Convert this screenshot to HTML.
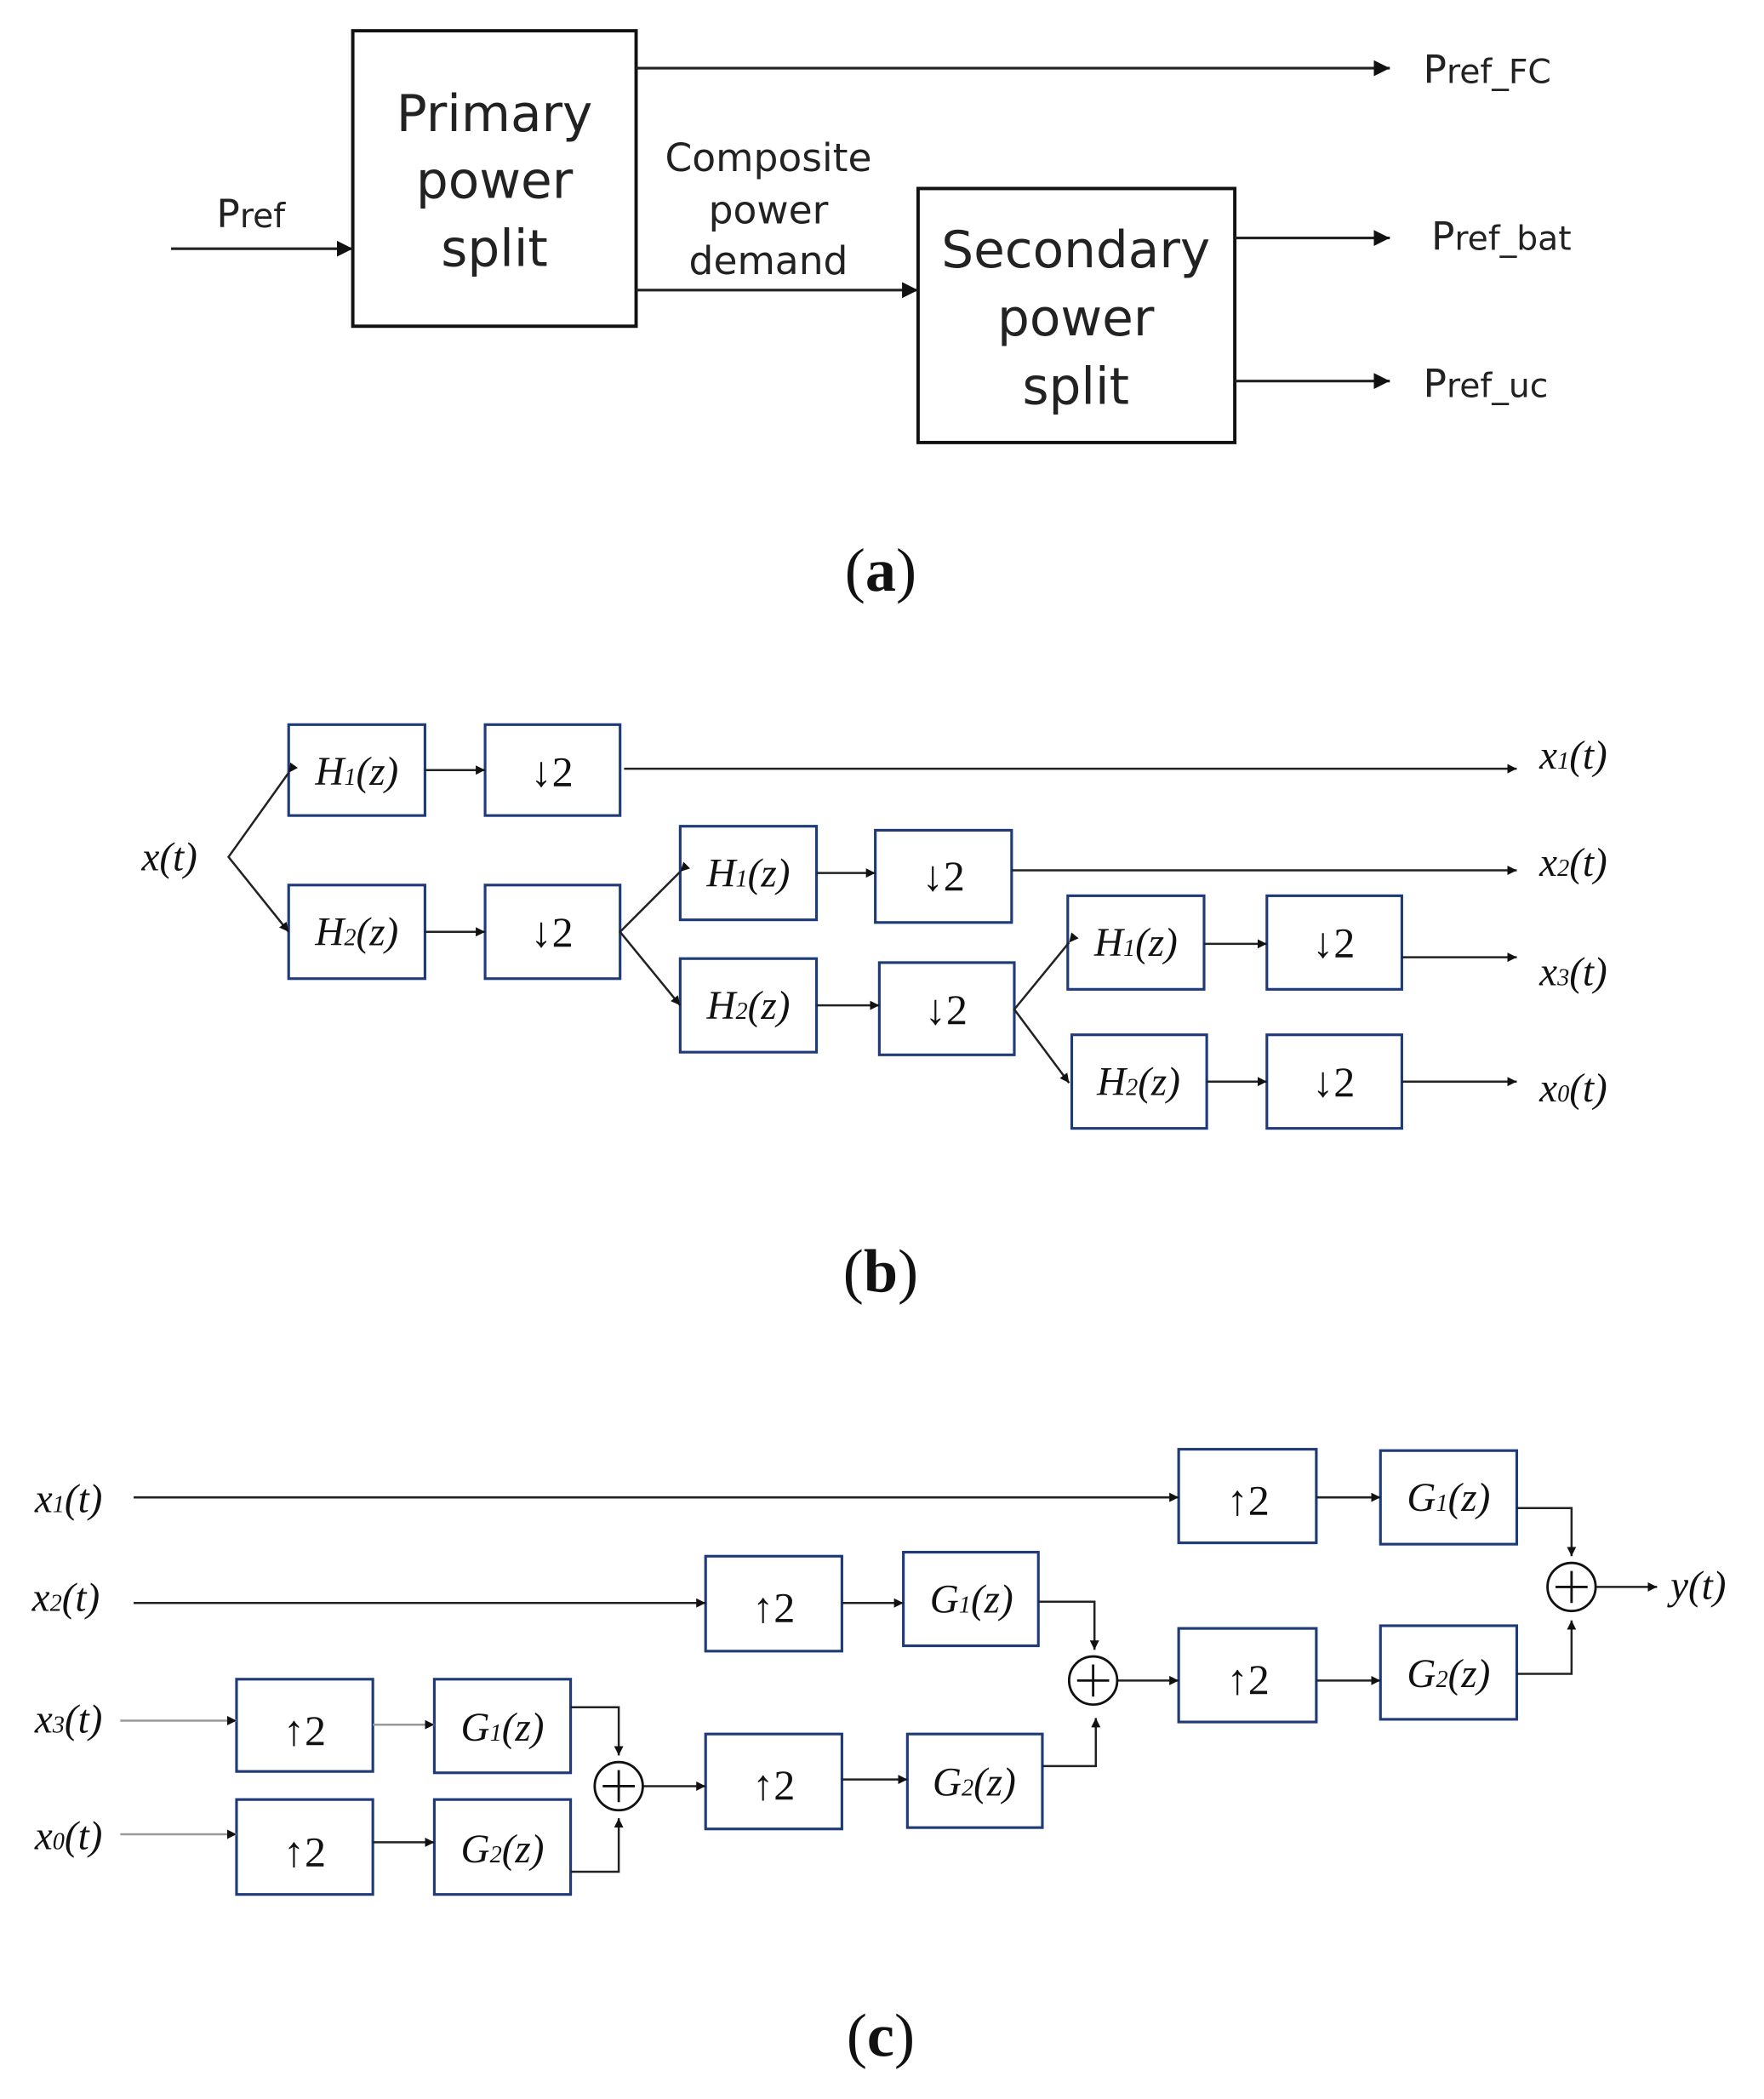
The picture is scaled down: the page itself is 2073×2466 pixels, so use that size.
<!DOCTYPE html>
<html><head><meta charset="utf-8"><style>
html,body{margin:0;padding:0;background:#fff;}
svg{display:block}
.s{font-family:"DejaVu Sans","Liberation Sans",sans-serif;fill:#222}
.m{font-family:"Liberation Serif",serif;font-style:italic;fill:#111}
.n{font-family:"Liberation Serif",serif;fill:#111}
.bb{fill:none;stroke:#1f3a78;stroke-width:2}
.ln{fill:none;stroke:#222;stroke-width:1.6}
</style></head><body>
<svg width="2073" height="2466" viewBox="0 0 1320 1570" preserveAspectRatio="none" xmlns="http://www.w3.org/2000/svg">
<defs>
<marker id="a" viewBox="0 0 10 10" refX="10" refY="5" markerWidth="7" markerHeight="7" markerUnits="userSpaceOnUse" orient="auto"><path d="M0,0 L10,5 L0,10 z" fill="#111"/></marker>
<marker id="A" viewBox="0 0 10 10" refX="10" refY="5" markerWidth="12" markerHeight="12" markerUnits="userSpaceOnUse" orient="auto"><path d="M0,0 L10,5 L0,10 z" fill="#111"/></marker>
</defs>
<!-- (a) -->
<rect x="264" y="23" width="212" height="221" fill="none" stroke="#111" stroke-width="2.5"/>
<rect x="687" y="141" width="237" height="190" fill="none" stroke="#111" stroke-width="2.5"/>
<g stroke="#222" stroke-width="2" fill="none">
<line x1="128" y1="186" x2="264" y2="186" marker-end="url(#A)"/>
<line x1="476" y1="51" x2="1040" y2="51" marker-end="url(#A)"/>
<line x1="476" y1="217" x2="687" y2="217" marker-end="url(#A)"/>
<line x1="924" y1="178" x2="1040" y2="178" marker-end="url(#A)"/>
<line x1="924" y1="285" x2="1040" y2="285" marker-end="url(#A)"/>
</g>
<g class="s" font-size="38" text-anchor="middle">
<text x="370" y="98">Primary</text><text x="370" y="148">power</text><text x="370" y="199">split</text>
<text x="805" y="200">Secondary</text><text x="805" y="251">power</text><text x="805" y="302">split</text>
</g>
<g class="s" font-size="29" text-anchor="middle">
<text x="575" y="128">Composite</text><text x="575" y="167">power</text><text x="575" y="205">demand</text>
</g>
<g class="s" font-size="29">
<text x="162" y="170">P<tspan font-size="25">ref</tspan></text>
<text x="1065" y="62">P<tspan font-size="25">ref_FC</tspan></text>
<text x="1071" y="187">P<tspan font-size="25">ref_bat</tspan></text>
<text x="1065" y="297">P<tspan font-size="25">ref_uc</tspan></text>
</g>
<text class="n" x="659" y="442" font-size="46" text-anchor="middle">(<tspan font-weight="bold">a</tspan>)</text>

<!-- (b) -->
<g class="bb">
<rect x="216" y="542" width="102" height="68"/><rect x="363" y="542" width="101" height="68"/>
<rect x="216" y="662" width="102" height="70"/><rect x="363" y="662" width="101" height="70"/>
<rect x="509" y="618" width="102" height="70"/><rect x="655" y="621" width="102" height="69"/>
<rect x="509" y="717" width="102" height="70"/><rect x="658" y="720" width="101" height="69"/>
<rect x="799" y="670" width="102" height="70"/><rect x="948" y="670" width="101" height="70"/>
<rect x="802" y="774" width="101" height="70"/><rect x="948" y="774" width="101" height="70"/>
</g>
<g class="ln">
<polyline points="216,578 171,641 216,697" marker-start="url(#a)" marker-end="url(#a)"/>
<polyline points="509,652 464,697 509,752" marker-start="url(#a)" marker-end="url(#a)"/>
<polyline points="800,705 759,755 800,810" marker-start="url(#a)" marker-end="url(#a)"/>
<line x1="318" y1="576" x2="363" y2="576" marker-end="url(#a)"/>
<line x1="467" y1="575" x2="1135" y2="575" marker-end="url(#a)"/>
<line x1="318" y1="697" x2="363" y2="697" marker-end="url(#a)"/>
<line x1="611" y1="653" x2="655" y2="653" marker-end="url(#a)"/>
<line x1="757" y1="651" x2="1135" y2="651" marker-end="url(#a)"/>
<line x1="611" y1="752" x2="658" y2="752" marker-end="url(#a)"/>
<line x1="901" y1="706" x2="948" y2="706" marker-end="url(#a)"/>
<line x1="1049" y1="716" x2="1135" y2="716" marker-end="url(#a)"/>
<line x1="903" y1="809" x2="948" y2="809" marker-end="url(#a)"/>
<line x1="1049" y1="809" x2="1135" y2="809" marker-end="url(#a)"/>
</g>
<g class="m" font-size="30" text-anchor="middle">
<text x="267" y="587">H<tspan font-size="18">1</tspan>(z)</text>
<text x="267" y="707">H<tspan font-size="18">2</tspan>(z)</text>
<text x="560" y="663">H<tspan font-size="18">1</tspan>(z)</text>
<text x="560" y="762">H<tspan font-size="18">2</tspan>(z)</text>
<text x="850" y="715">H<tspan font-size="18">1</tspan>(z)</text>
<text x="852" y="819">H<tspan font-size="18">2</tspan>(z)</text>
</g>
<g class="n" font-size="32" text-anchor="middle">
<text x="413" y="588">↓2</text><text x="413" y="708">↓2</text>
<text x="706" y="666">↓2</text><text x="708" y="766">↓2</text>
<text x="998" y="716">↓2</text><text x="998" y="820">↓2</text>
</g>
<g class="m" font-size="30">
<text x="106" y="651">x(t)</text>
<text x="1152" y="575">x<tspan font-size="18">1</tspan>(t)</text>
<text x="1152" y="655">x<tspan font-size="18">2</tspan>(t)</text>
<text x="1152" y="737">x<tspan font-size="18">3</tspan>(t)</text>
<text x="1152" y="824">x<tspan font-size="18">0</tspan>(t)</text>
</g>
<text class="n" x="659" y="966" font-size="46" text-anchor="middle">(<tspan font-weight="bold">b</tspan>)</text>

<!-- (c) -->
<g class="bb" stroke-width="2.5">
<rect x="882" y="1084" width="103" height="70"/><rect x="1033" y="1085" width="102" height="70"/>
<rect x="528" y="1164" width="102" height="71"/><rect x="676" y="1161" width="101" height="70"/>
<rect x="882" y="1218" width="103" height="70"/><rect x="1033" y="1216" width="102" height="70"/>
<rect x="177" y="1256" width="102" height="69"/><rect x="325" y="1256" width="102" height="70"/>
<rect x="528" y="1297" width="102" height="71"/><rect x="679" y="1297" width="101" height="70"/>
<rect x="177" y="1346" width="102" height="71"/><rect x="325" y="1346" width="102" height="71"/>
</g>
<g class="ln">
<line x1="100" y1="1120" x2="882" y2="1120" marker-end="url(#a)"/>
<line x1="985" y1="1120" x2="1033" y2="1120" marker-end="url(#a)"/>
<polyline points="1135,1128 1176,1128 1176,1164" marker-end="url(#a)"/>
<line x1="1194" y1="1187" x2="1240" y2="1187" marker-end="url(#a)"/>
<line x1="100" y1="1199" x2="528" y2="1199" marker-end="url(#a)"/>
<line x1="630" y1="1199" x2="676" y2="1199" marker-end="url(#a)"/>
<polyline points="777,1198 819,1198 819,1234" marker-end="url(#a)"/>
<line x1="836" y1="1257" x2="882" y2="1257" marker-end="url(#a)"/>
<line x1="985" y1="1257" x2="1033" y2="1257" marker-end="url(#a)"/>
<polyline points="1135,1252 1176,1252 1176,1212" marker-end="url(#a)"/>
<line x1="90" y1="1287" x2="177" y2="1287" marker-end="url(#a)" stroke="#999"/>
<line x1="279" y1="1290" x2="325" y2="1290" marker-end="url(#a)" stroke="#999"/>
<polyline points="427,1277 463,1277 463,1313" marker-end="url(#a)"/>
<line x1="481" y1="1336" x2="528" y2="1336" marker-end="url(#a)"/>
<line x1="630" y1="1331" x2="679" y2="1331" marker-end="url(#a)"/>
<polyline points="780,1321 820,1321 820,1285" marker-end="url(#a)"/>
<line x1="90" y1="1372" x2="177" y2="1372" marker-end="url(#a)" stroke="#999"/>
<line x1="279" y1="1378" x2="325" y2="1378" marker-end="url(#a)"/>
<polyline points="427,1400 463,1400 463,1360" marker-end="url(#a)"/>
</g>
<g fill="none" stroke="#111" stroke-width="1.8">
<circle cx="1176" cy="1187" r="18"/><path d="M1164,1187 H1188 M1176,1175 V1199"/>
<circle cx="818" cy="1257" r="18"/><path d="M806,1257 H830 M818,1245 V1269"/>
<circle cx="463" cy="1336" r="18"/><path d="M451,1336 H475 M463,1324 V1348"/>
</g>
<g class="m" font-size="30" text-anchor="middle">
<text x="1084" y="1130">G<tspan font-size="18">1</tspan>(z)</text>
<text x="727" y="1206">G<tspan font-size="18">1</tspan>(z)</text>
<text x="1084" y="1262">G<tspan font-size="18">2</tspan>(z)</text>
<text x="376" y="1302">G<tspan font-size="18">1</tspan>(z)</text>
<text x="729" y="1343">G<tspan font-size="18">2</tspan>(z)</text>
<text x="376" y="1393">G<tspan font-size="18">2</tspan>(z)</text>
</g>
<g class="n" font-size="32" text-anchor="middle">
<text x="934" y="1133">↑2</text><text x="579" y="1213">↑2</text><text x="934" y="1267">↑2</text>
<text x="228" y="1305">↑2</text><text x="579" y="1346">↑2</text><text x="228" y="1396">↑2</text>
</g>
<g class="m" font-size="30">
<text x="26" y="1131">x<tspan font-size="18">1</tspan>(t)</text>
<text x="24" y="1205">x<tspan font-size="18">2</tspan>(t)</text>
<text x="26" y="1296">x<tspan font-size="18">3</tspan>(t)</text>
<text x="26" y="1383">x<tspan font-size="18">0</tspan>(t)</text>
<text x="1250" y="1196">y(t)</text>
</g>
<text class="n" x="659" y="1538" font-size="46" text-anchor="middle">(<tspan font-weight="bold">c</tspan>)</text>
</svg>
</body></html>
